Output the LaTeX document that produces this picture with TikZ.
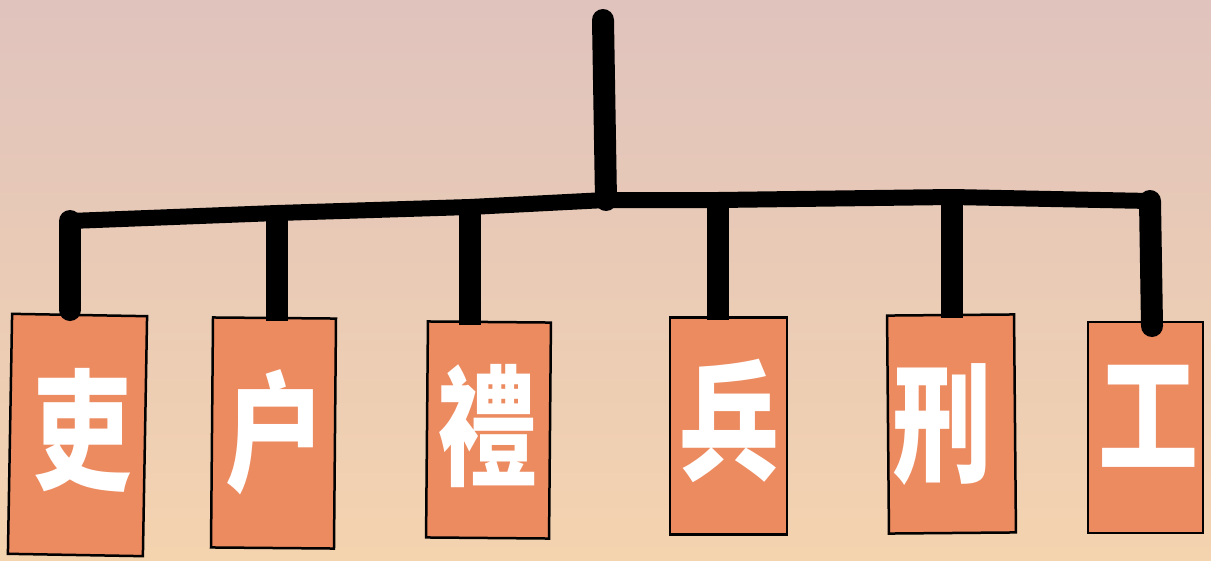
\documentclass[tikz,border=0pt]{standalone}
\usepackage{fontspec}
\newfontfamily\cjk{Noto Sans CJK TC}
\definecolor{bgtop}{HTML}{E0C3BD}
\definecolor{bgbot}{HTML}{F4D3AF}
\definecolor{tag}{HTML}{EC8A60}
\begin{document}
\begin{tikzpicture}[x=1pt,y=-1pt,
  tagbox/.style={draw=black,line width=2.5pt,fill=tag,inner sep=0pt},
  glyph/.style={text=white,font=\cjk\bfseries\fontsize{100}{100}\selectfont,inner sep=0pt,yscale=1.3,transform shape},
  wire/.style={line width=16pt,line cap=round,line join=round,draw=black},
  drop/.style={line width=22pt,line cap=butt,draw=black}]
\useasboundingbox (0,0) rectangle (1211,560);
\shade[top color=bgtop,bottom color=bgbot] (0,0) rectangle (1211,560);
% boxes
\node[tagbox,minimum width=135pt,minimum height=240pt,rotate=-1] (b1) at (77.5,435) {};
\node[tagbox,minimum width=123pt,minimum height=230pt,rotate=-0.5] (b2) at (273.5,433) {};
\node[tagbox,minimum width=123pt,minimum height=216pt,rotate=-0.5] (b3) at (488.5,430) {};
\node[tagbox,minimum width=117pt,minimum height=217pt] (b4) at (728.5,426) {};
\node[tagbox,minimum width=127pt,minimum height=218pt,rotate=0.5] (b5) at (951.5,424) {};
\node[tagbox,minimum width=115pt,minimum height=211pt] (b6) at (1145.5,427.5) {};
% glyphs
\node[glyph] (t1) at (82,430) {吏};
\node[glyph] (t2) at (275,432) {户};
\node[glyph] (t3) at (487,426) {禮};
\node[glyph] (t4) at (729,421) {兵};
\node[glyph] (t5) at (942,425) {刑};
\node[glyph] (t6) at (1148,416) {工};
% connectors
\coordinate (top) at (603,20);
\coordinate (hub) at (606,200);
\coordinate (j1) at (70,221);
\coordinate (j2) at (277,213);
\coordinate (j3) at (470,207);
\coordinate (j4) at (718,200);
\coordinate (j5) at (952,197);
\coordinate (j6) at (1150,201);
\coordinate (e1) at (70,310);
\coordinate (e6) at (1152,326);
\draw[wire] (j1) -- (j2) -- (j3) -- (hub) -- (j4) -- (j5) -- (j6);
\draw[drop,line cap=round] (top) -- (hub);
\draw[drop,line cap=round] (j1) -- (e1);
\draw[drop] (j2) -- ([yshift=-4pt]j2 |- b2.north);
\draw[drop] (j3) -- ([yshift=-4pt]j3 |- b3.north);
\draw[drop] (j4) -- ([yshift=-4pt]j4 |- b4.north);
\draw[drop] (j5) -- ([yshift=-4pt]j5 |- b5.north);
\draw[drop,line cap=round] (j6) -- (e6);
\end{tikzpicture}
\end{document}
